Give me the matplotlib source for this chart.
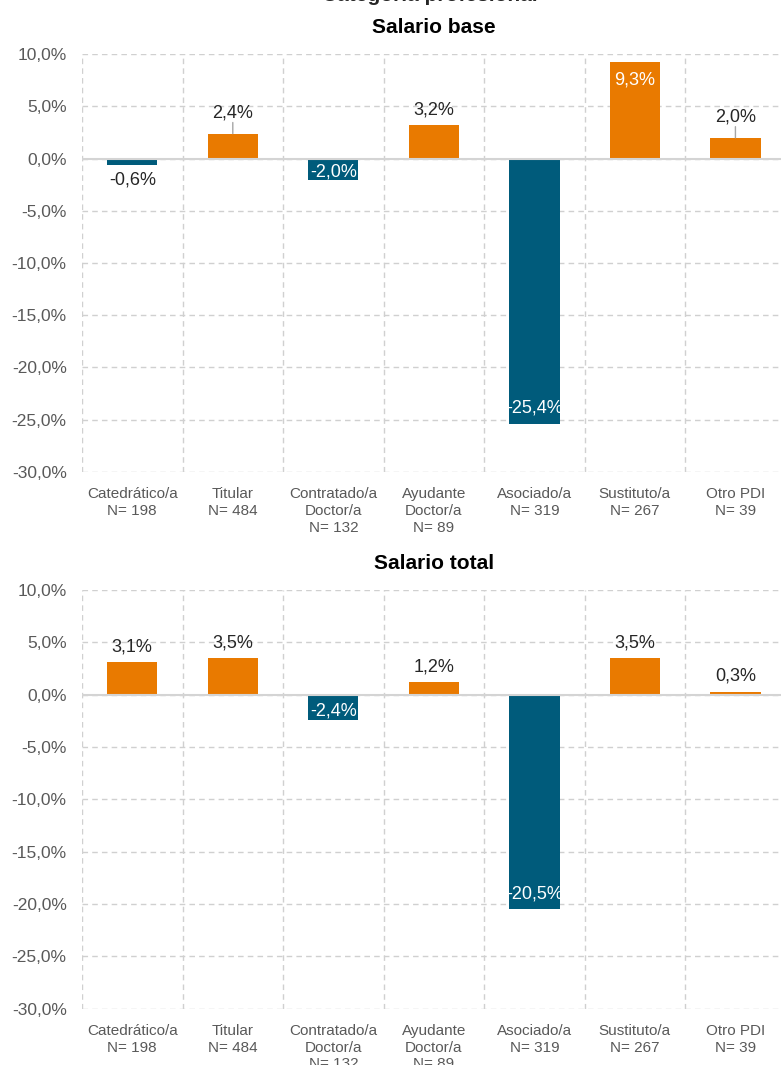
import matplotlib
matplotlib.use("Agg")
import matplotlib.pyplot as plt
import numpy as np

plt.rcParams["font.family"] = ["Liberation Sans", "DejaVu Sans"]

# ── Data ─────────────────────────────────────────────────────────────────────
categories = ["Catedrático/a", "Titular", "Contratado/a\nDoctor/a", "Ayudante\nDoctor/a",
              "Asociado/a", "Sustituto/a", "Otro PDI"]
n_counts = [198, 484, 132, 89, 319, 267, 39]
salario_base = [-0.6, 2.4, -2.0, 3.2, -25.4, 9.3, 2.0]
salario_total = [3.1, 3.5, -2.4, 1.2, -20.5, 3.5, 0.3]

# label placement: "out" above/below bar, "line" out with leader,
# "in" inside bar end, "mid" inside short bar
modes_base = ["out", "line", "mid", "out", "in", "in", "line"]
modes_total = ["out", "out", "mid", "out", "in", "out", "out"]

ORANGE = "#E97A00"
BLUE = "#005B7B"
GRID = "#D0D0D0"
TICK = "#595959"
LABEL = "#262626"


def fmt(v):
    return f"{v:.1f}%".replace(".", ",")


def draw_panel(ax, values, modes, title):
    x = np.arange(len(categories))
    colors = [ORANGE if v >= 0 else BLUE for v in values]
    ax.bar(x, values, width=0.5, color=colors, zorder=3)

    ax.set_xlim(-0.5, len(categories) - 0.5)
    ax.set_ylim(-30, 10)
    yt = np.arange(-30, 11, 5)
    ax.set_yticks(yt)
    ax.set_yticklabels([fmt(t) for t in yt], color=TICK, fontsize=12.5)
    ax.set_xticks(x)
    ax.set_xticklabels([f"{c}\nN= {n}" for c, n in zip(categories, n_counts)],
                       color=TICK, fontsize=11, linespacing=1.25)
    ax.tick_params(axis="x", length=0, pad=11)
    ax.tick_params(axis="y", length=0, pad=11)

    for s in ax.spines.values():
        s.set_visible(False)
    ax.grid(axis="y", color=GRID, linestyle=(0, (4, 3)), linewidth=1, zorder=0)
    for b in np.arange(-0.5, len(categories) - 0.5, 1.0):
        ax.axvline(b, color=GRID, linestyle=(0, (4, 3)), linewidth=1, zorder=0)
    ax.axhline(0, color="#D4D4D4", linewidth=1.5, zorder=4)

    for xi, v, m in zip(x, values, modes):
        if m == "in":
            if v >= 0:
                ax.annotate(fmt(v), (xi, v), xytext=(0, -7), textcoords="offset points",
                            ha="center", va="top", color="white", fontsize=13, zorder=5)
            else:
                ax.annotate(fmt(v), (xi, v), xytext=(0, 5), textcoords="offset points",
                            ha="center", va="bottom", color="white", fontsize=13, zorder=5)
        elif m == "mid":
            ax.annotate(fmt(v), (xi, v * 0.65), ha="center", va="center",
                        color="white", fontsize=13, zorder=5)
        else:
            off = 9 if m == "line" else 5
            if v >= 0:
                ax.annotate(fmt(v), (xi, v), xytext=(0, off), textcoords="offset points",
                            ha="center", va="bottom", color=LABEL, fontsize=13, zorder=5)
                if m == "line":
                    ax.annotate("", (xi, v), xytext=(0, off - 1), textcoords="offset points",
                                arrowprops=dict(arrowstyle="-", color="#A6A6A6", lw=1,
                                                shrinkA=0, shrinkB=0), zorder=4)
            else:
                ax.annotate(fmt(v), (xi, v), xytext=(0, -5), textcoords="offset points",
                            ha="center", va="top", color=LABEL, fontsize=13, zorder=5)

    ax.set_title(title, fontsize=15, fontweight="bold", pad=15)


fig = plt.figure(figsize=(7.81, 10.65), dpi=100)
ax1 = fig.add_axes([0.105, 0.557, 0.901, 0.392])
ax2 = fig.add_axes([0.105, 0.053, 0.901, 0.393])

draw_panel(ax1, salario_base, modes_base, "Salario base")
draw_panel(ax2, salario_total, modes_total, "Salario total")

fig.text(0.55, 1.004, "Categoría profesional", ha="center", va="center",
         fontsize=15, fontweight="bold", color=LABEL)

fig.savefig("out.png", dpi=100)
